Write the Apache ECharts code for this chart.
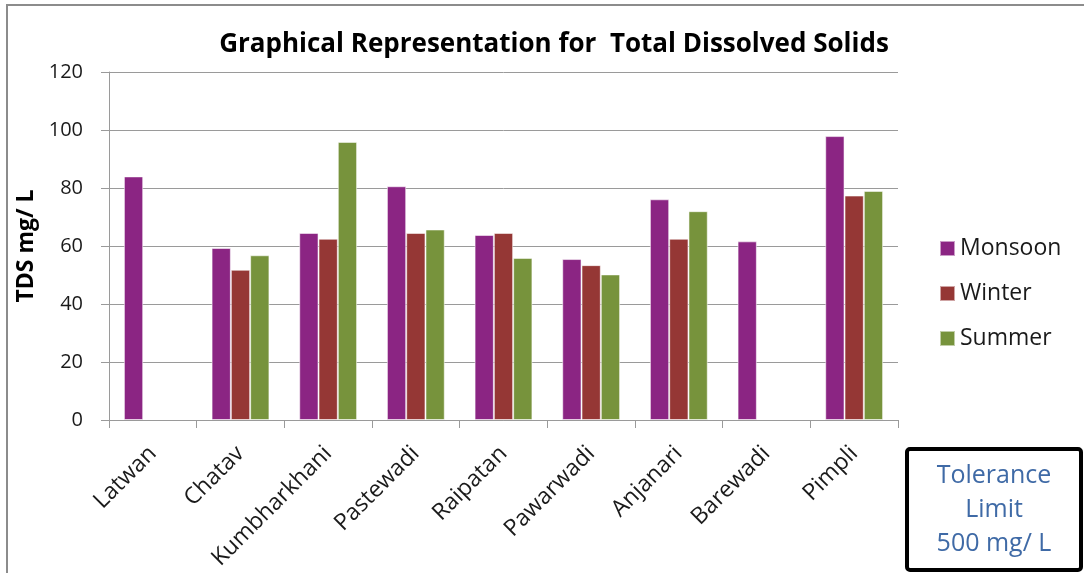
<!DOCTYPE html>
<html>
<head>
<meta charset="utf-8">
<title>Total Dissolved Solids</title>
<script src="https://cdn.jsdelivr.net/npm/echarts@6/dist/echarts.min.js"></script>
<style>
  html, body { margin: 0; padding: 0; background: #ffffff; }
  #chart { width: 1084px; height: 573px; }
</style>
</head>
<body>
<div id="chart"></div>
<script>
// Sampling sites along the x axis
const sites = ['Latwan', 'Chatav', 'Kumbharkhani', 'Pastewadi', 'Raipatan',
               'Pawarwadi', 'Anjanari', 'Barewadi', 'Pimpli'];

// TDS (mg/L) per season; '-' marks a season without a sample
const monsoon = [84, 59.3, 64.5, 80.6, 63.8, 55.5, 76.1, 61.6, 97.9];
const winter  = ['-', 51.8, 62.5, 64.5, 64.5, 53.4, 62.5, '-', 77.4];
const summer  = ['-', 56.8, 95.9, 65.7, 55.9, 50.2, 72.0, '-', 79.0];

// Value axis range and step
const yMin = 0, yMax = 120, yStep = 20;

const seasonColors = { Monsoon: '#8B2583', Winter: '#953735', Summer: '#77933C' };

const FONT = '"Open Sans", "Noto Sans", sans-serif';
const GRID_COLOR = '#9a9a9a';

function barSeries(name, data) {
  return {
    name: name,
    type: 'bar',
    data: data,
    barGap: '0%',
    barCategoryGap: '34%',
    itemStyle: {
      color: seasonColors[name],
      borderColor: 'rgba(255,255,255,0.55)',
      borderWidth: 1
    },
    emphasis: { disabled: true }
  };
}

const chart = echarts.init(document.getElementById('chart'), null, { renderer: 'canvas' });

chart.setOption({
  animation: false,
  backgroundColor: '#ffffff',
  title: {
    text: 'Graphical Representation for  Total Dissolved Solids',
    left: 549,
    textAlign: 'center',
    top: 27,
    textStyle: { fontFamily: FONT, fontWeight: 'bold', fontSize: 26, color: '#000000' }
  },
  legend: {
    orient: 'vertical',
    left: 939,
    top: 237,
    padding: 0,
    itemWidth: 15,
    itemHeight: 15,
    itemGap: 22,
    icon: 'rect',
    textStyle: { fontFamily: FONT, fontSize: 23, color: '#1a1a1a', lineHeight: 23 },
    data: ['Monsoon', 'Winter', 'Summer']
  },
  grid: { left: 109, right: 186, top: 72, height: 348, containLabel: false },
  xAxis: {
    type: 'category',
    data: sites,
    boundaryGap: true,
    axisLine: { lineStyle: { color: GRID_COLOR, width: 1 } },
    axisTick: { show: true, length: 8, alignWithLabel: false, lineStyle: { color: GRID_COLOR } },
    axisLabel: {
      interval: 0,
      rotate: 45,
      margin: 30,
      fontFamily: FONT,
      fontSize: 23,
      color: '#1a1a1a'
    }
  },
  yAxis: {
    type: 'value',
    min: yMin,
    max: yMax,
    interval: yStep,
    name: 'TDS mg/ L',
    nameLocation: 'middle',
    nameRotate: 90,
    nameGap: 62,
    nameTextStyle: { fontFamily: FONT, fontWeight: 'bold', fontSize: 23, color: '#000000' },
    axisLine: { show: true, lineStyle: { color: GRID_COLOR, width: 1 } },
    axisTick: { show: true, length: 8, lineStyle: { color: GRID_COLOR } },
    axisLabel: { margin: 26, fontFamily: FONT, fontSize: 20, color: '#1a1a1a' },
    splitLine: { show: true, lineStyle: { color: GRID_COLOR, width: 1 } }
  },
  series: [
    barSeries('Monsoon', monsoon),
    barSeries('Winter', winter),
    barSeries('Summer', summer)
  ],
  graphic: [
    {
      // outer chart frame
      type: 'rect',
      shape: { x: 7, y: 5, width: 1090, height: 580 },
      style: { fill: 'none', stroke: '#8c8c8c', lineWidth: 2 },
      silent: true
    },
    {
      // tolerance note box
      type: 'rect',
      shape: { x: 907, y: 449, width: 174, height: 121, r: 3 },
      style: { fill: '#ffffff', stroke: '#000000', lineWidth: 4 },
      silent: true
    },
    {
      type: 'text',
      x: 994,
      y: 510,
      style: {
        text: 'Tolerance\nLimit\n500 mg/ L',
        fontFamily: FONT,
        fontSize: 25,
        lineHeight: 34,
        fill: '#3F6AA6',
        align: 'center',
        verticalAlign: 'middle'
      },
      silent: true
    }
  ]
});
</script>
</body>
</html>
